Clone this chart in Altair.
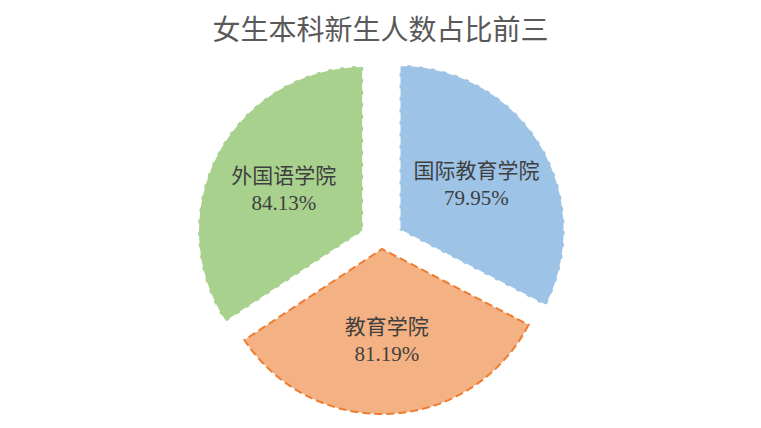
import altair as alt
import pandas as pd

categories = ["国际教育学院", "教育学院", "外国语学院"]
values = [79.95, 81.19, 84.13]
fill_colors = ["#9DC3E6", "#F4B183", "#A9D18E"]
edge_colors = ["#FFFFFF", "#ED7D31", "#FFFFFF"]

df = pd.DataFrame({"cat": categories, "value": values, "idx": list(range(len(categories)))})

W, H = 745, 368
CX, CY = 373.6, 189.0  # pie centre inside plot area (pixels)

base = alt.Chart(df).transform_joinaggregate(
    total="sum(value)"
).transform_window(
    cum="sum(value)", sort=[alt.SortField("idx")], frame=[None, 0]
).transform_calculate(
    end="2*PI*datum.cum/datum.total",
    start="2*PI*(datum.cum-datum.value)/datum.total",
).transform_calculate(
    mid="(datum.start+datum.end)/2",
    ex="datum.cat == '教育学院' ? 8 : 21",
).transform_calculate(
    dx="datum.ex*sin(datum.mid)",
    dy="datum.ex*cos(datum.mid)",
).transform_calculate(
    lx="datum.dx + 90*sin(datum.mid)",
    ly="datum.dy + 90*cos(datum.mid)",
    label="datum.cat + '\\n' + format(datum.value, '.2f') + '%'",
)

xs = alt.Scale(domain=[-CX, W - CX], range=[0, W], nice=False, zero=False)
ys = alt.Scale(domain=[-(H - CY), CY], range=[H, 0], nice=False, zero=False)

arcs = base.mark_arc(radius=165, strokeDash=[8, 4], strokeWidth=2).encode(
    theta=alt.Theta("start:Q", scale=None),
    theta2="end:Q",
    x=alt.X("dx:Q", scale=xs, axis=None),
    y=alt.Y("dy:Q", scale=ys, axis=None),
    color=alt.Color("cat:N", scale=alt.Scale(domain=categories, range=fill_colors), legend=None),
    stroke=alt.Stroke("cat:N", scale=alt.Scale(domain=categories, range=edge_colors), legend=None),
)

labels = base.mark_text(
    lineBreak="\n", fontSize=21, lineHeight=27, dy=-11,
    font="Liberation Serif, Noto Sans CJK SC", color="#3F3F3F",
    align="center", baseline="middle",
).encode(
    x=alt.X("lx:Q", scale=xs, axis=None),
    y=alt.Y("ly:Q", scale=ys, axis=None),
    text="label:N",
)

chart = alt.layer(arcs, labels).properties(
    width=W, height=H,
    padding={"top": 10, "left": 0, "right": 0, "bottom": 0},
    title=alt.TitleParams(
        "女生本科新生人数占比前三", fontSize=28, font="Noto Sans CJK SC",
        fontWeight="normal", color="#595959", anchor="middle", offset=6,
    ),
).configure_view(stroke=None)

chart.save("out.html", embed_options={"renderer": "svg", "actions": False})
